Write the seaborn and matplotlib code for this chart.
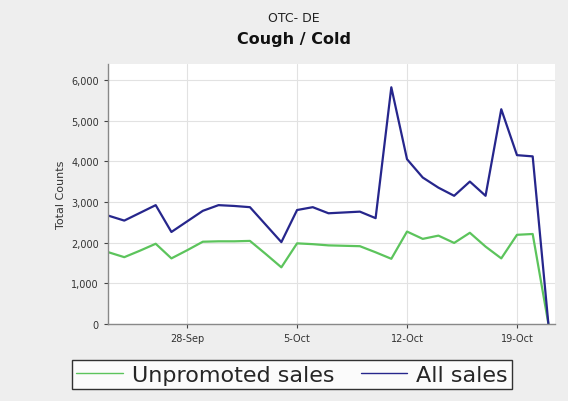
import pandas as pd
import matplotlib.pyplot as plt
from matplotlib.lines import Line2D
import seaborn as sns

# data (daily, 23-Sep .. 21-Oct)
start_date = "2009-09-23"
all_sales = [2660, 2540, 2730, 2920, 2260, 2520, 2780, 2920, 2900, 2870,
             2440, 2010, 2800, 2870, 2720, 2740, 2760, 2600, 5820, 4050,
             3600, 3350, 3150, 3500, 3150, 5280, 4150, 4120, 0]
unpromoted_sales = [1760, 1640, 1800, 1970, 1610, 1810, 2020, 2030, 2030, 2040,
                    1720, 1390, 1980, 1960, 1930, 1920, 1910, 1760, 1600, 2270,
                    2090, 2170, 1990, 2240, 1900, 1610, 2190, 2210, 0]
tick_dates = ["2009-09-28", "2009-10-05", "2009-10-12", "2009-10-19"]
tick_labels = ["28-Sep", "5-Oct", "12-Oct", "19-Oct"]
series_names = ["Unpromoted sales", "All sales"]
colors = {"Unpromoted sales": "#5cc45c", "All sales": "#26268c"}

dates = pd.date_range(start_date, periods=len(all_sales), freq="D")
df = pd.concat([
    pd.DataFrame({"date": dates, "count": unpromoted_sales, "series": "Unpromoted sales"}),
    pd.DataFrame({"date": dates, "count": all_sales, "series": "All sales"}),
])

sns.set_style("whitegrid")
plt.rcParams["font.family"] = ["DejaVu Sans"]

fig = plt.figure(figsize=(5.68, 4.02), dpi=100, facecolor="#eeeeee")
ax = fig.add_axes([0.19, 0.192, 0.787, 0.646])
ax.set_facecolor("white")

sns.lineplot(data=df, x="date", y="count", hue="series", hue_order=series_names,
             palette=colors, linewidth=1.6, legend=False, ax=ax)

ax.set_ylim(0, 6390)
ax.set_xlim(dates[0] - pd.Timedelta(hours=1), dates[-1] + pd.Timedelta(hours=10))
ax.set_yticks([0, 1000, 2000, 3000, 4000, 5000, 6000])
ax.yaxis.set_major_formatter(plt.FuncFormatter(lambda v, p: f"{int(v):,}"))
ax.set_xticks(pd.to_datetime(tick_dates))
ax.set_xticklabels(tick_labels)
ax.tick_params(axis="both", labelsize=7, colors="#444444", length=3,
               direction="out", left=True, bottom=True)
ax.tick_params(axis="both", labelcolor="#333333")
ax.set_xlabel("")
ax.set_ylabel("Total Counts", fontsize=8, color="#333333")
ax.grid(True, color="#e2e2e2", linewidth=0.8)
for side in ["top", "right"]:
    ax.spines[side].set_visible(False)
for side in ["left", "bottom"]:
    ax.spines[side].set_color("#888888")
    ax.spines[side].set_linewidth(1.0)

fig.text(0.517, 0.955, "OTC- DE", ha="center", va="center", fontsize=9, color="#222222")
fig.text(0.517, 0.902, "Cough / Cold", ha="center", va="center", fontsize=11.5,
         fontweight="bold", color="#111111")

handles = [Line2D([0], [0], color=colors[n], linewidth=1.0) for n in series_names]
leg = fig.legend(handles, series_names, loc="center", bbox_to_anchor=(0.514, 0.065),
                 ncol=2, fontsize=16, frameon=True, fancybox=False,
                 handlelength=2.1, handletextpad=0.4, columnspacing=1.2,
                 borderpad=0.2, borderaxespad=0.0)
leg.get_frame().set_edgecolor("black")
leg.get_frame().set_linewidth(1.0)
leg.get_frame().set_facecolor("white")

fig.savefig("out.png", dpi=100, facecolor=fig.get_facecolor())
